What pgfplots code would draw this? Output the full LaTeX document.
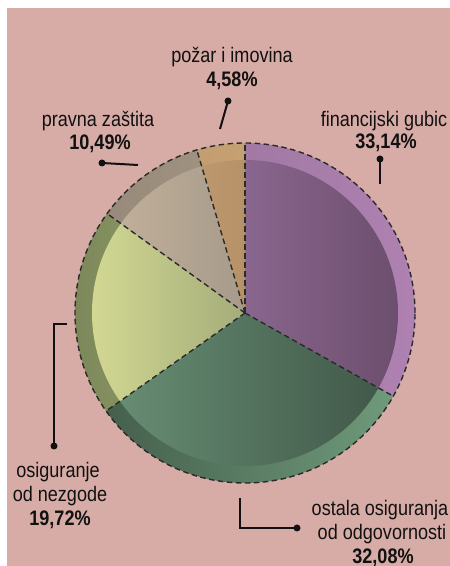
\documentclass[border=0pt]{standalone}
\usepackage{pgfplots}
\pgfplotsset{compat=1.18}
\usepackage{fontspec}
\setmainfont[FakeStretch=0.86]{Liberation Sans}
\definecolor{bgpink}{RGB}{216,172,166}
\definecolor{txt}{RGB}{17,17,17}
\definecolor{dashgray}{RGB}{42,42,42}
% ring (outer band) left/right, inner disc left/right
\definecolor{pRL}{RGB}{147,113,150}\definecolor{pRR}{RGB}{175,129,177}
\definecolor{pIL}{RGB}{167,126,174}\definecolor{pIR}{RGB}{108,78,110}
\definecolor{gRL}{RGB}{65,89,72}\definecolor{gRR}{RGB}{114,159,126}
\definecolor{gIL}{RGB}{106,146,119}\definecolor{gIR}{RGB}{63,85,71}
\definecolor{yRL}{RGB}{124,136,90}\definecolor{yRR}{RGB}{190,200,130}
\definecolor{yIL}{RGB}{210,216,146}\definecolor{yIR}{RGB}{118,128,98}
\definecolor{bRL}{RGB}{150,136,120}\definecolor{bRR}{RGB}{175,160,142}
\definecolor{bIL}{RGB}{198,180,156}\definecolor{bIR}{RGB}{134,128,121}
\definecolor{oRL}{RGB}{190,152,108}\definecolor{oRR}{RGB}{205,168,120}
\definecolor{oIL}{RGB}{205,164,118}\definecolor{oIR}{RGB}{160,128,92}
\begin{document}
\begin{tikzpicture}
\useasboundingbox (0,0) rectangle (450bp,566bp);
\clip (0,0) rectangle (450bp,566bp);
\begin{axis}[at={(0,0)}, anchor=origin, scale only axis, width=450bp, height=566bp,
  xmin=0, xmax=450, ymin=0, ymax=566, hide axis, clip=false]
\fill[white] (axis cs:0,0) rectangle (axis cs:450,566);
\fill[bgpink] (axis cs:7,0) rectangle (axis cs:450,558);
\pgfplotsextra{
  \coordinate (C) at (axis cs:245,253);
  \gdef\curang{90}
  % share (%) / ring left / ring right / inner left / inner right
  \foreach \v/\rl/\rr/\il/\ir in {33.14/pRL/pRR/pIL/pIR, 32.08/gRL/gRR/gIL/gIR,
      19.72/yRL/yRR/yIL/yIR, 10.49/bRL/bRR/bIL/bIR, 4.58/oRL/oRR/oIL/oIR}{
    \pgfmathsetmacro\endang{\curang-3.6*\v}
    \begin{scope}
      \clip (C) -- ++(\curang:170bp) arc[start angle=\curang, end angle=\endang, radius=170bp] -- cycle;
      \shade[left color=\rl, right color=\rr] ([xshift=-170bp,yshift=-170bp]C) rectangle ([xshift=170bp,yshift=170bp]C);
      \shade[left color=\il, right color=\ir] (C) circle[radius=153bp];
    \end{scope}
    \global\let\curang\endang
  }
  \gdef\curang{90}
  \draw[color=dashgray, line width=1.4bp, dash pattern=on 5.5bp off 3.5bp] (C) circle[radius=170bp];
  \foreach \v in {0, 33.14, 32.08, 19.72, 10.49}{
    \pgfmathsetmacro\endang{\curang-3.6*\v}
    \draw[color=dashgray, line width=1.4bp, dash pattern=on 5.5bp off 3.5bp] (C) -- ++(\endang:170bp);
    \global\let\curang\endang
  }
}
% leader lines
\draw[txt, line width=2bp] (axis cs:228,465) -- (axis cs:220,437);
\fill[txt] (axis cs:228,465) circle[radius=3.5bp];
\draw[txt, line width=2bp] (axis cs:102,403) -- (axis cs:138,401);
\fill[txt] (axis cs:102,403) circle[radius=3.5bp];
\draw[txt, line width=2bp] (axis cs:380,407) -- (axis cs:380,382);
\fill[txt] (axis cs:380,407) circle[radius=3.5bp];
\draw[txt, line width=2bp] (axis cs:67,242) -- (axis cs:54,242) -- (axis cs:54,120);
\fill[txt] (axis cs:54,120) circle[radius=3.5bp];
\draw[txt, line width=2bp] (axis cs:240,68) -- (axis cs:240,38) -- (axis cs:297,38);
\fill[txt] (axis cs:297,38) circle[radius=3.5bp];
% labels
\tikzset{lb/.style={anchor=base, inner sep=0pt, text=txt, font=\fontsize{21bp}{24bp}\selectfont},
         lbb/.style={lb, font=\fontsize{21bp}{24bp}\selectfont\bfseries}}
\node[lb]  at (axis cs:232,503) {požar i imovina};
\node[lbb] at (axis cs:232,479) {4,58\%};
\node[lb]  at (axis cs:98,439) {pravna zaštita};
\node[lbb] at (axis cs:100,416) {10,49\%};
\node[lb]  at (axis cs:384,439) {financijski gubic};
\node[lbb] at (axis cs:386,417) {33,14\%};
\node[lb]  at (axis cs:58,88) {osiguranje};
\node[lb]  at (axis cs:60,64) {od nezgode};
\node[lbb] at (axis cs:60,40) {19,72\%};
\node[lb]  at (axis cs:380,50) {ostala osiguranja};
\node[lb]  at (axis cs:382,27) {od odgovornosti};
\node[lbb] at (axis cs:383,3) {32,08\%};
\end{axis}
\end{tikzpicture}
\end{document}
